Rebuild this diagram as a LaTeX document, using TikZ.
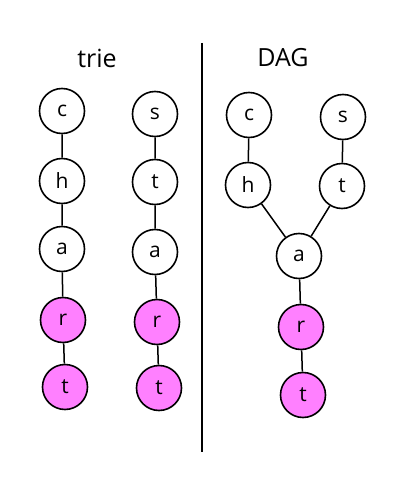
\documentclass[tikz,border=0pt]{standalone}
\usepackage{fontspec}
\setmainfont{Open Sans}
\begin{document}
\begin{tikzpicture}[x=1pt,y=-1pt,
  nd/.style={circle,draw=black,line width=1.6pt,minimum size=45pt,inner sep=0pt,fill=white,font=\fontsize{21}{24}\selectfont},
  pk/.style={nd,fill=pinkfill},
  ln/.style={line width=1.5pt,draw=black},
  ttl/.style={font=\fontsize{25}{28}\selectfont}]
\definecolor{pinkfill}{HTML}{FF80FF}
\useasboundingbox (0,0) rectangle (400,495);
\fill[white] (0,0) rectangle (400,495);
\node[ttl] (trie) at (97,58) {trie};
\node[ttl] (dag) at (283,58) {DAG};
\coordinate (dtop) at (202,43);
\coordinate (dbot) at (202,452);
\draw[ln] (dtop) -- (dbot);
% left trie
\node[nd] (c1) at (62,111) {c};
\node[nd] (h1) at (62,181) {h};
\node[nd] (a1) at (62,249) {a};
\node[pk] (r1) at (63,320) {r};
\node[pk] (t1) at (65,387) {t};
\draw[ln] (c1) -- (h1) -- (a1) -- (r1) -- (t1);
% second trie
\node[nd] (s2) at (155,114) {s};
\node[nd] (t2) at (155,182) {t};
\node[nd] (a2) at (155,252) {a};
\node[pk] (r2) at (157,322) {r};
\node[pk] (tt2) at (159,388) {t};
\draw[ln] (s2) -- (t2) -- (a2) -- (r2) -- (tt2);
% DAG
\node[nd] (c3) at (249,115) {c};
\node[nd] (h3) at (248,185) {h};
\node[nd] (s3) at (343,117) {s};
\node[nd] (t3) at (342,186) {t};
\node[nd] (a3) at (299,256) {a};
\node[pk] (r3) at (301,327) {r};
\node[pk] (tt3) at (303,395) {t};
\draw[ln] (c3) -- (h3) -- (a3);
\draw[ln] (s3) -- (t3) -- (a3);
\draw[ln] (a3) -- (r3) -- (tt3);
\end{tikzpicture}
\end{document}
